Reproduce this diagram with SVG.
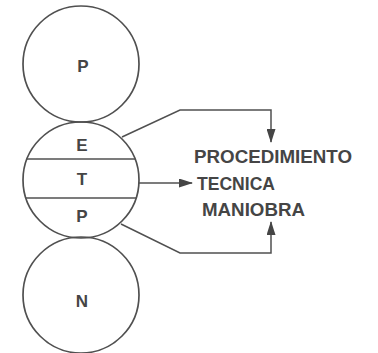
<svg xmlns="http://www.w3.org/2000/svg" width="378" height="353" viewBox="0 0 378 353">
  <style>
    .ring { fill: none; stroke: #505050; stroke-width: 1.7; }
    .div { stroke: #505050; stroke-width: 1.7; }
    .lbl { font-family: "Liberation Sans", Arial, sans-serif; font-weight: bold; fill: #454545; }
    .node { font-size: 17px; text-anchor: middle; }
    .out { font-size: 18.5px; }
    .wire { fill: none; stroke: #505050; stroke-width: 1.5; }
  </style>
  <defs>
    <marker id="head" viewBox="0 0 14 9" refX="13" refY="4.5" markerWidth="15" markerHeight="9" markerUnits="userSpaceOnUse" orient="auto">
      <path d="M0,0 L14,4.5 L0,9 Z" fill="#454545"/>
    </marker>
    <clipPath id="mid-clip">
      <circle cx="81" cy="180" r="58"/>
    </clipPath>
  </defs>
  <rect width="378" height="353" fill="#fff"/>

  <g id="top-circle">
    <circle class="ring" cx="81" cy="64" r="58"/>
    <text class="lbl node" x="83" y="72">P</text>
  </g>

  <g id="middle-circle">
    <circle class="ring" cx="81" cy="180" r="58"/>
    <g clip-path="url(#mid-clip)">
      <line class="div" x1="20" y1="159" x2="142" y2="159"/>
      <line class="div" x1="20" y1="198" x2="142" y2="198"/>
    </g>
    <text class="lbl node" x="82" y="151">E</text>
    <text class="lbl node" x="82" y="185">T</text>
    <text class="lbl node" x="82" y="222">P</text>
  </g>

  <g id="bottom-circle">
    <circle class="ring" cx="81" cy="295" r="58"/>
    <text class="lbl node" x="82" y="307">N</text>
  </g>

  <g id="outcome">
    <text class="lbl out" x="194" y="163" textLength="158" lengthAdjust="spacingAndGlyphs">PROCEDIMIENTO</text>
    <text class="lbl out" x="197" y="190" textLength="78" lengthAdjust="spacingAndGlyphs">TECNICA</text>
    <text class="lbl out" x="202" y="216" textLength="103" lengthAdjust="spacingAndGlyphs">MANIOBRA</text>
  </g>

  <g id="connectors">
    <polyline class="wire" points="122,137 180,110 271,110 271,142" marker-end="url(#head)"/>
    <line class="wire" x1="139" y1="183" x2="192" y2="183" marker-end="url(#head)"/>
    <polyline class="wire" points="121,224 180,253 271,253 271,222" marker-end="url(#head)"/>
  </g>
</svg>
